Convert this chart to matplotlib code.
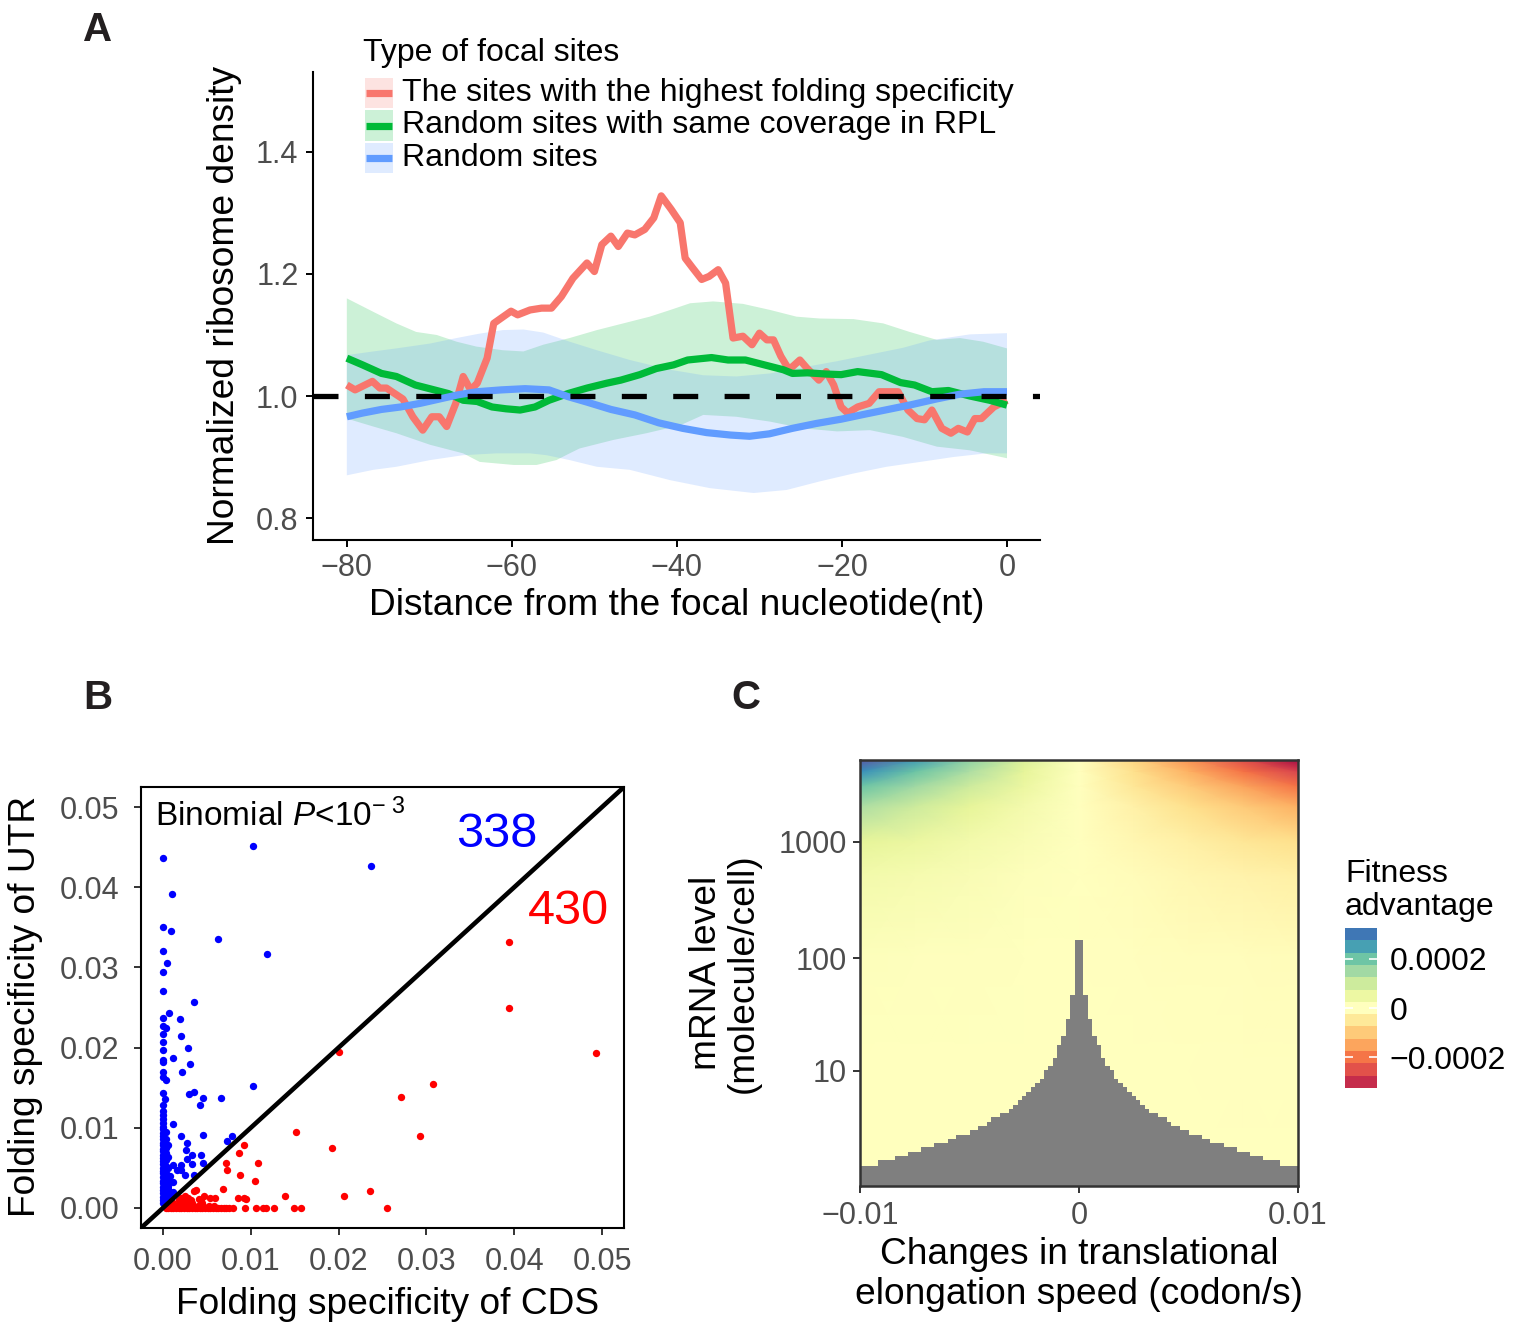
import numpy as np
import matplotlib
matplotlib.use("Agg")
import matplotlib.pyplot as plt
from matplotlib.patches import Rectangle
from matplotlib.lines import Line2D
from matplotlib.colors import Normalize

plt.rcParams['font.family'] = ['Liberation Sans', 'DejaVu Sans']
plt.rcParams['mathtext.fontset'] = 'custom'
plt.rcParams['mathtext.rm'] = 'Liberation Sans'
plt.rcParams['mathtext.it'] = 'Liberation Sans:italic'
plt.rcParams['lines.scale_dashes'] = False

# ---------------- Panel A data ----------------
series_labels = ["The sites with the highest folding specificity",
                 "Random sites with same coverage in RPL",
                 "Random sites"]
RED, GREEN, BLUE = "#F8766D", "#00BA38", "#619CFF"

red_x = [-80, -79, -76.9, -76, -75.2, -73.2, -72, -70.8, -69.7, -68.8, -67.9, -66.8, -65.9, -65,
         -64.2, -63, -62.2, -60.1, -59.3, -57.8, -56.4, -55.2, -54, -52.6, -50.9, -50, -49.1, -48,
         -47.1, -46, -45.1, -43.9, -42.8, -41.9, -40.7, -39.6, -39, -38.1, -37, -36.1, -35, -34.1,
         -33.2, -32, -30.9, -30, -29.1, -28.3, -27.4, -26.5, -26, -25.1, -24.2, -22.8, -21.9, -21,
         -20.1, -19.3, -18.1, -16.7, -15.5, -13.2, -12, -10.9, -10, -9.1, -7.9, -6.8, -5.9, -4.8,
         -3.9, -3.1, -1.6, 0]
red_y = [1.018, 1.010, 1.024, 1.013, 1.013, 0.995, 0.966, 0.944, 0.966, 0.966, 0.950, 0.988, 1.032,
         1.010, 1.021, 1.062, 1.119, 1.139, 1.133, 1.141, 1.144, 1.144, 1.163, 1.193, 1.218, 1.204,
         1.248, 1.262, 1.245, 1.267, 1.264, 1.273, 1.292, 1.328, 1.306, 1.284, 1.226, 1.210, 1.191,
         1.196, 1.207, 1.185, 1.095, 1.098, 1.084, 1.103, 1.092, 1.092, 1.065, 1.045, 1.048, 1.059,
         1.045, 1.026, 1.040, 1.018, 0.982, 0.972, 0.982, 0.988, 1.007, 1.007, 0.977, 0.963, 0.961,
         0.977, 0.947, 0.939, 0.947, 0.941, 0.963, 0.963, 0.982, 0.993]

green_x = [-80, -78.1, -75.8, -74, -71.7, -69.4, -67.7, -65.9, -64.2, -62.4, -60.7, -59, -57.2, -55.5,
           -53.2, -50.9, -48.5, -46.8, -44.5, -42.5, -40.4, -38.7, -35.8, -33.8, -31.7, -29.4, -27.1,
           -26, -24.2, -21.9, -20.1, -18.1, -15.2, -12.9, -11.2, -9.1, -7.1, -4.5, -2.1, 0]
green_y = [1.062, 1.051, 1.037, 1.032, 1.018, 1.010, 1.004, 0.993, 0.991, 0.982, 0.979, 0.977, 0.982,
           0.993, 1.004, 1.013, 1.021, 1.026, 1.035, 1.045, 1.051, 1.059, 1.063, 1.059, 1.059, 1.051,
           1.043, 1.037, 1.038, 1.036, 1.035, 1.040, 1.035, 1.022, 1.018, 1.007, 1.009, 1.000, 0.993,
           0.985]

blue_x = [-80, -78.1, -75.8, -73.5, -71.1, -68.8, -66.5, -64.2, -61.3, -58.4, -55.5, -53.2, -50.9, -48,
          -45.1, -42.2, -39.3, -36.4, -33.5, -31.2, -28.8, -26, -23.1, -20.1, -17.3, -14.4, -11.5,
          -8.6, -5.7, -2.8, 0]
blue_y = [0.966, 0.972, 0.978, 0.982, 0.988, 0.995, 1.002, 1.007, 1.010, 1.012, 1.010, 0.999, 0.990,
          0.978, 0.969, 0.956, 0.947, 0.940, 0.936, 0.934, 0.938, 0.947, 0.955, 0.962, 0.970, 0.978,
          0.986, 0.995, 1.003, 1.007, 1.007]

green_up_x = [-80, -76.8, -74, -71.6, -69.1, -66.7, -64.3, -61.1, -58.6, -56.2, -53, -49.7, -46.5, -43.3,
              -40.8, -38.4, -35.6, -32, -28.7, -25.5, -22.7, -18.6, -15, -11.8, -8.5, -5.7, -2.9, 0]
green_up = [1.160, 1.138, 1.119, 1.105, 1.100, 1.089, 1.081, 1.075, 1.073, 1.084, 1.095, 1.108, 1.119,
            1.130, 1.141, 1.152, 1.155, 1.151, 1.141, 1.130, 1.127, 1.126, 1.119, 1.105, 1.092, 1.095,
            1.089, 1.078]
green_lo_x = [-80, -76.8, -74, -69.9, -65.9, -63.9, -59.8, -57, -54.6, -53, -51.8, -47.7, -43.7, -39.6,
              -36.8, -32.8, -28.7, -24.7, -20.6, -16.6, -12.6, -8.5, -4.5, 0]
green_lo = [0.963, 0.950, 0.939, 0.920, 0.906, 0.892, 0.887, 0.887, 0.895, 0.906, 0.914, 0.928, 0.939,
            0.952, 0.969, 0.966, 0.958, 0.947, 0.942, 0.944, 0.933, 0.917, 0.911, 0.898]
blue_up_x = [-80, -76.8, -74, -69.9, -66.7, -64, -61.1, -58.6, -56.2, -53, -49.7, -45.7, -40.8, -36.8,
             -32.8, -28.7, -24.7, -20.6, -16.6, -12.6, -9.4, -4.5, 0]
blue_up = [1.067, 1.073, 1.078, 1.086, 1.095, 1.102, 1.108, 1.109, 1.104, 1.089, 1.075, 1.059, 1.043,
           1.034, 1.032, 1.037, 1.047, 1.057, 1.068, 1.079, 1.091, 1.101, 1.103]
blue_lo_x = [-80, -76.8, -74, -69.9, -65.9, -61.9, -57.8, -55.8, -53, -49.7, -45.7, -40.8, -36, -30.7,
             -26.7, -22.7, -18.6, -14.6, -10.5, -6.5, -2.5, 0]
blue_lo = [0.870, 0.879, 0.884, 0.895, 0.903, 0.906, 0.906, 0.903, 0.895, 0.884, 0.879, 0.862, 0.849,
           0.841, 0.846, 0.860, 0.873, 0.884, 0.892, 0.900, 0.906, 0.906]

a_xticks = [-80, -60, -40, -20, 0]
a_yticks = [0.8, 1.0, 1.2, 1.4]

# ---------------- Panel B data ----------------
blue_cds = [0.0000, 0.0103, 0.0237, 0.0010, 0.0000, 0.0009, 0.0063, 0.0118, 0.0000, 0.0005, 0.0000,
            0.0000, 0.0035, 0.0000, 0.0007, 0.0019, 0.0000, 0.0003, 0.0000, 0.0020, 0.0000, 0.0028,
            0.0000, 0.0012, 0.0000, 0.0000, 0.0031, 0.0022, 0.0000, 0.0000, 0.0003, 0.0103, 0.0030,
            0.0035, 0.0000, 0.0002, 0.0046, 0.0066, 0.0042, 0.0000, 0.0012, 0.0021, 0.0046, 0.0079,
            0.0073, 0.0027, 0.0026, 0.0043, 0.0033, 0.0027, 0.0020, 0.0046, 0.0033, 0.0012, 0.0025,
            0.0035, 0.0008, 0.0012, 0.0016, 0.0021, 0.0006, 0.0012, 0.0004, 0.0008,
            0.0000, 0.0000, 0.0000, 0.0000, 0.0000, 0.0000, 0.0000, 0.0000, 0.0000, 0.0000, 0.0000,
            0.0000, 0.0000, 0.0000, 0.0000, 0.0000, 0.0000, 0.0000, 0.0000, 0.0000, 0.0000, 0.0000,
            0.0000, 0.0000, 0.0000, 0.0000, 0.0000, 0.0000, 0.0000,
            0.0003, 0.0003, 0.0003, 0.0003, 0.0003, 0.0003, 0.0003, 0.0003, 0.0003, 0.0003, 0.0003,
            0.0006, 0.0006, 0.0006, 0.0006, 0.0006, 0.0006]
blue_utr = [0.0437, 0.0452, 0.0426, 0.0391, 0.0350, 0.0345, 0.0336, 0.0317, 0.0320, 0.0305, 0.0294,
            0.0271, 0.0257, 0.0237, 0.0243, 0.0236, 0.0227, 0.0224, 0.0217, 0.0215, 0.0207, 0.0200,
            0.0197, 0.0187, 0.0185, 0.0182, 0.0179, 0.0170, 0.0169, 0.0163, 0.0159, 0.0152, 0.0142,
            0.0145, 0.0143, 0.0136, 0.0137, 0.0137, 0.0129, 0.0128, 0.0105, 0.0090, 0.0091, 0.0090,
            0.0084, 0.0081, 0.0072, 0.0066, 0.0066, 0.0061, 0.0054, 0.0056, 0.0055, 0.0054, 0.0041,
            0.0041, 0.0040, 0.0032, 0.0047, 0.0047, 0.0028, 0.0020, 0.0015, 0.0012,
            0.0121, 0.0116, 0.0111, 0.0106, 0.0101, 0.0098, 0.0093, 0.0090, 0.0086, 0.0081, 0.0078,
            0.0074, 0.0071, 0.0066, 0.0062, 0.0058, 0.0055, 0.0050, 0.0046, 0.0043, 0.0038, 0.0034,
            0.0031, 0.0026, 0.0022, 0.0019, 0.0014, 0.0010, 0.0006,
            0.0095, 0.0086, 0.0075, 0.0068, 0.0060, 0.0052, 0.0044, 0.0036, 0.0028, 0.0020, 0.0012,
            0.0078, 0.0064, 0.0050, 0.0035, 0.0024, 0.0016]

red_cds = [0.0394, 0.0394, 0.0493, 0.0200, 0.0308, 0.0271, 0.0293, 0.0151, 0.0193, 0.0092, 0.0087,
           0.0108, 0.0072, 0.0073, 0.0088, 0.0105, 0.0068, 0.0139, 0.0206, 0.0236, 0.0255, 0.0157,
           0.0149, 0.0126, 0.0117, 0.0114, 0.0106, 0.0093, 0.0080, 0.0086, 0.0092, 0.0095, 0.0054,
           0.0047, 0.0035, 0.0038, 0.0043, 0.0025, 0.0041, 0.0030,
           0.0003, 0.0006, 0.0009, 0.0012, 0.0015, 0.0018, 0.0021, 0.0024, 0.0027, 0.0030, 0.0033,
           0.0036, 0.0039, 0.0042, 0.0045, 0.0048, 0.0051, 0.0054, 0.0057, 0.0060, 0.0063, 0.0066,
           0.0069, 0.0072, 0.0075,
           0.0010, 0.0016, 0.0022, 0.0028, 0.0034, 0.0040, 0.0046, 0.0052, 0.0058,
           0.0012, 0.0019, 0.0026, 0.0033, 0.0045,
           0.0018, 0.0024, 0.0032,
           0.0020, 0.0028, 0.0059]
red_utr = [0.0332, 0.0249, 0.0193, 0.0195, 0.0154, 0.0139, 0.0090, 0.0095, 0.0075, 0.0078, 0.0068,
           0.0056, 0.0056, 0.0047, 0.0041, 0.0034, 0.0024, 0.0015, 0.0015, 0.0021, 0.0000, 0.0000,
           0.0000, 0.0000, 0.0000, 0.0000, 0.0000, 0.0000, 0.0000, 0.0012, 0.0013, 0.0011, 0.0012,
           0.0015, 0.0021, 0.0023, 0.0010, 0.0015, 0.0011, 0.0008,
           0.0000, 0.0000, 0.0000, 0.0000, 0.0000, 0.0000, 0.0000, 0.0000, 0.0000, 0.0000, 0.0000,
           0.0000, 0.0000, 0.0000, 0.0000, 0.0000, 0.0000, 0.0000, 0.0000, 0.0000, 0.0000, 0.0000,
           0.0000, 0.0000, 0.0000,
           0.0003, 0.0003, 0.0003, 0.0003, 0.0003, 0.0003, 0.0003, 0.0003, 0.0003,
           0.0006, 0.0006, 0.0006, 0.0006, 0.0006,
           0.0010, 0.0010, 0.0010,
           0.0013, 0.0013, 0.0013]
n_above, n_below = "338", "430"
b_ticks = [0.00, 0.01, 0.02, 0.03, 0.04, 0.05]
b_ticklabels = ["0.00", "0.01", "0.02", "0.03", "0.04", "0.05"]

# ---------------- Panel C data ----------------
heat_speed = [-0.01, -0.0075, -0.005, -0.0025, 0.0, 0.0025, 0.005, 0.0075, 0.01]
heat_level = [0.14, 10, 100, 500, 1000, 2000, 3000, 4000, 5000]
heat_values_e4 = [   # fitness advantage x 1e-4, rows follow heat_level
    [0.00, 0.00, 0.00, 0.00, 0.0, 0.00, 0.00, 0.00, 0.00],
    [0.01, 0.01, 0.00, 0.00, 0.0, 0.00, 0.00, -0.01, -0.01],
    [0.07, 0.05, 0.03, 0.02, 0.0, -0.02, -0.03, -0.05, -0.07],
    [0.34, 0.26, 0.17, 0.08, 0.0, -0.08, -0.17, -0.26, -0.34],
    [0.68, 0.52, 0.34, 0.17, 0.0, -0.17, -0.34, -0.52, -0.68],
    [1.36, 1.00, 0.68, 0.32, 0.0, -0.32, -0.68, -1.00, -1.36],
    [2.04, 1.52, 1.00, 0.52, 0.0, -0.52, -1.00, -1.52, -2.04],
    [2.72, 2.04, 1.36, 0.68, 0.0, -0.68, -1.36, -2.04, -2.72],
    [3.40, 2.56, 1.68, 0.84, 0.0, -0.84, -1.68, -2.56, -3.40],
]
# mRNA level below which the cell is undefined (grey), per speed column from the centre outwards
na_half = [143.8, 48.0, 29.3, 20.7, 17.2, 13.1, 11.0, 10.1, 8.3, 7.6, 6.96, 6.22, 5.67, 5.16, 4.58,
           4.16, 3.77, 3.77, 3.41, 3.41, 3.00, 2.69, 2.69, 2.42, 2.42, 2.09, 2.09, 2.09, 1.86, 1.86,
           1.64, 1.64, 1.64, 1.44, 1.44, 1.44, 1.21, 1.21, 1.21, 1.05, 1.05, 1.05, 0.89, 0.89, 0.89,
           0.89, 0.70, 0.70, 0.70, 0.70]
cb_bins = [-0.0003, -0.00025, -0.0002, -0.00015, -0.0001, -0.00005, 0.0, 0.00005, 0.0001, 0.00015,
           0.0002, 0.00025, 0.0003]
cb_ticks = [0.0002, 0.0, -0.0002]
cb_ticklabels = ["0.0002", "0", "\u22120.0002"]
c_xticks = [-0.01, 0.0, 0.01]
c_xticklabels = ["\u22120.01", "0", "0.01"]
c_yticks = [10, 100, 1000]

# ---------------- Figure ----------------
W, H, DPI = 1520, 1326, 100
fig = plt.figure(figsize=(W / DPI, H / DPI), dpi=DPI)
fig.patch.set_facecolor("white")


def fx(x):
    return x / W


def fy(y):
    return 1 - y / H


def box(l, t, r, b):
    return [l / W, 1 - b / H, (r - l) / W, (b - t) / H]


TICKC = "#4d4d4d"
TICK_FS = 22
TITLE_FS = 26.7
LEG_FS = 23
LW = 5.2

# ---- Panel A ----
axA = fig.add_axes(box(313, 72, 1040, 540))
axA.fill(np.r_[green_up_x, green_lo_x[::-1]], np.r_[green_up, green_lo[::-1]],
         color=GREEN, alpha=0.2, lw=0)
axA.fill(np.r_[blue_up_x, blue_lo_x[::-1]], np.r_[blue_up, blue_lo[::-1]],
         color=BLUE, alpha=0.2, lw=0)
for xs, ys, c in [(red_x, red_y, RED), (green_x, green_y, GREEN), (blue_x, blue_y, BLUE)]:
    axA.plot(xs, ys, color=c, lw=LW, solid_joinstyle="round", solid_capstyle="butt")
axA.axhline(1.0, color="black", lw=3.8, dashes=(18, 19))
axA.set_xlim(-84.1, 4.0)
axA.set_ylim(0.764, 1.531)
for s in ["top", "right"]:
    axA.spines[s].set_visible(False)
for s in ["left", "bottom"]:
    axA.spines[s].set_linewidth(1.5)
    axA.spines[s].set_color("black")
axA.set_xticks(a_xticks)
axA.set_xticklabels(["\u221280", "\u221260", "\u221240", "\u221220", "0"])
axA.set_yticks(a_yticks)
axA.set_yticklabels(["0.8", "1.0", "1.2", "1.4"])
axA.tick_params(axis="both", length=5, width=1.4, color="black", labelsize=TICK_FS,
                labelcolor=TICKC)
axA.tick_params(axis="x", pad=4.0)
axA.tick_params(axis="y", pad=5.5)

fig.text(fx(225), fy(305), "Normalized ribosome density", rotation=90, fontsize=TITLE_FS,
         ha="center", va="center")
fig.text(fx(677), fy(606), "Distance from the focal nucleotide(nt)", fontsize=TITLE_FS,
         ha="center", va="center")

# legend of panel A
fig.text(fx(363), fy(53), "Type of focal sites", fontsize=LEG_FS, ha="left", va="center")
for i, (lab, c) in enumerate(zip(series_labels, [RED, GREEN, BLUE])):
    yc = 93 + 32.5 * i
    fig.add_artist(Rectangle((fx(365), fy(yc + 15)), 28 / W, 30 / H, transform=fig.transFigure,
                             facecolor=c, alpha=0.2, lw=0))
    fig.add_artist(Line2D([fx(366), fx(392)], [fy(yc), fy(yc)], color=c, lw=LW,
                          solid_capstyle="butt", transform=fig.transFigure))
    fig.text(fx(402), fy(yc), lab, fontsize=LEG_FS, ha="left", va="center")

# ---- Panel B ----
axB = fig.add_axes(box(141, 787, 624, 1228))
axB.scatter(blue_cds, blue_utr, s=28, color="#0000FF", lw=0, zorder=2)
axB.scatter(red_cds, red_utr, s=28, color="#FF0000", lw=0, zorder=2)
axB.axline((0, 0), slope=1, color="black", lw=3.3, zorder=3)
axB.set_xlim(-0.0025, 0.0525)
axB.set_ylim(-0.0025, 0.0525)
for s in axB.spines.values():
    s.set_linewidth(1.5)
    s.set_color("black")
axB.set_xticks(b_ticks)
axB.set_xticklabels(b_ticklabels)
axB.set_yticks(b_ticks)
axB.set_yticklabels(b_ticklabels)
axB.tick_params(axis="both", length=5, width=1.4, color="#333333", labelsize=TICK_FS,
                labelcolor=TICKC, pad=10.5)
axB.tick_params(axis="x", pad=8.5)
fig.text(fx(155), fy(826), r"Binomial $\mathit{P}$<10$^{-\ 3}$", fontsize=24, ha="left",
         va="baseline")
fig.text(fx(497), fy(847), n_above, fontsize=35, color="#0000FF", ha="center", va="baseline")
fig.text(fx(568), fy(924), n_below, fontsize=35, color="#FF0000", ha="center", va="baseline")
fig.text(fx(26), fy(1006), "Folding specificity of UTR", rotation=90, fontsize=TITLE_FS,
         ha="center", va="center")
fig.text(fx(388), fy(1305), "Folding specificity of CDS", fontsize=TITLE_FS,
         ha="center", va="center")

# ---- Panel C ----
axC = fig.add_axes(box(860, 760, 1298, 1186))


def _fwd(y):
    return np.log10(1 + np.clip(y, 0, None))


def _inv(t):
    return 10 ** np.asarray(t) - 1


axC.set_yscale("function", functions=(_fwd, _inv))
norm = Normalize(vmin=-0.00035, vmax=0.00035)
SX, SY = np.meshgrid(heat_speed, heat_level)
axC.pcolormesh(SX, SY, np.array(heat_values_e4) * 1e-4, cmap="Spectral", norm=norm,
               shading="gouraud", rasterized=True)
na_levels = list(na_half[::-1]) + list(na_half)
col_edges = np.linspace(heat_speed[0], heat_speed[-1], len(na_levels) + 1)
axC.stairs(na_levels, col_edges, baseline=0, fill=True, color="#7f7f7f", lw=0)
axC.set_xlim(-0.01, 0.01)
axC.set_ylim(0.14, 5000)
for s in axC.spines.values():
    s.set_linewidth(1.8)
    s.set_color("#333333")
axC.set_xticks(c_xticks)
axC.set_xticklabels(c_xticklabels)
axC.set_yticks(c_yticks)
axC.set_yticklabels([str(v) for v in c_yticks])
axC.yaxis.set_minor_locator(matplotlib.ticker.NullLocator())
axC.tick_params(axis="both", length=5, width=1.4, color="#333333", labelsize=TICK_FS,
                labelcolor=TICKC)
axC.tick_params(axis="x", pad=5.5)
axC.tick_params(axis="y", pad=4.5)

fig.text(fx(706), fy(973), "mRNA level", rotation=90, fontsize=TITLE_FS, ha="center", va="center")
fig.text(fx(743), fy(973), "(molecule/cell)", rotation=90, fontsize=TITLE_FS, ha="center",
         va="center")
fig.text(fx(1079), fy(1254), "Changes in translational", fontsize=TITLE_FS, ha="center",
         va="center")
fig.text(fx(1079), fy(1294), "elongation speed (codon/s)", fontsize=TITLE_FS, ha="center",
         va="center")

# colourbar
axCB = fig.add_axes(box(1345, 928, 1377, 1088))
cb_edges = np.linspace(cb_bins[0] - 0.000025, cb_bins[-1] + 0.000025, len(cb_bins) + 1)
axCB.pcolormesh([0, 1], cb_edges, np.array(cb_bins)[:, None], cmap="Spectral", norm=norm)
axCB.set_xlim(0, 1)
axCB.set_ylim(cb_edges[0], cb_edges[-1])
for s in axCB.spines.values():
    s.set_visible(False)
axCB.set_xticks([])
axCB.set_yticks(cb_ticks)
axCB.set_yticklabels(cb_ticklabels)
axCB.tick_params(axis="y", direction="in", length=6, width=1.2, color="white", left=True,
                 right=True, labelleft=False, labelright=True, labelsize=LEG_FS,
                 labelcolor="black", pad=9)
fig.text(fx(1345), fy(874), "Fitness", fontsize=LEG_FS, ha="left", va="center")
fig.text(fx(1345), fy(907), "advantage", fontsize=LEG_FS, ha="left", va="center")

# panel letters
for lab, x, y in [("A", 98, 41), ("B", 98, 709), ("C", 746, 709)]:
    fig.text(fx(x), fy(y), lab, fontsize=29, fontweight="bold", color="#231f20",
             ha="center", va="baseline")

fig.savefig("out.png", dpi=DPI)
